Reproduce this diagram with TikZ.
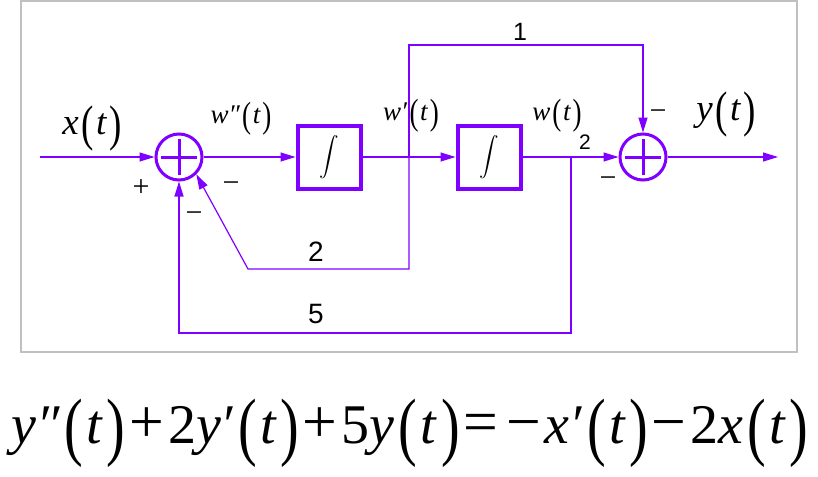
\documentclass[tikz,border=0pt]{standalone}
\usepackage{fontspec}
\setmainfont{Liberation Serif}
\newfontfamily\serif{Liberation Serif}
\newfontfamily\arial{Liberation Sans}
\usepackage{graphicx}
\usetikzlibrary{arrows.meta}
\definecolor{vio}{RGB}{128,0,255}
\definecolor{frm}{RGB}{192,192,192}
\newcommand\LP{\raisebox{-0.14em}{\scalebox{1}[1.35]{(}}}
\newcommand\RP{\raisebox{-0.14em}{\scalebox{1}[1.35]{)}}}
\newcommand\sig[2]{\textit{#1}\kern0.08em\LP\kern0.06em\textit{#2}\kern0.06em\RP}
\newcommand\op[1]{\kern0.07em\raisebox{0.02em}{\scalebox{1.1}{#1}}\kern0.07em}
\newcommand\fsz[1]{\fontsize{#1}{#1}\selectfont}
\newcommand\integ{\scalebox{1.95}{$\displaystyle\int$}}
\begin{document}
\begin{tikzpicture}[x=1pt,y=-1pt,
  sumnode/.style={circle,draw=vio,line width=3pt,minimum size=46pt,inner sep=0pt},
  intbox/.style={rectangle,draw=vio,line width=4pt,minimum width=63pt,minimum height=63pt,inner sep=0pt},
  plusline/.style={vio,line width=3pt},
  conn/.style={vio,line width=1.2pt},
  arr/.style={conn,-{Triangle[length=15pt,width=9pt]}},
  lab/.style={inner sep=0pt,anchor=center},
  num/.style={lab,font=\arial},
  sgn/.style={lab,font=\serif\fsz{30}}]
\useasboundingbox (0,0) rectangle (818,476);
\draw[frm,line width=1.5pt] (21,1) rectangle (797,352);
% blocks
\node[sumnode] (s1) at (179,157) {};
\node[sumnode] (s2) at (643,157) {};
\draw[plusline] ([xshift=-18pt]s1.center) -- ([xshift=18pt]s1.center);
\draw[plusline] ([yshift=-18pt]s1.center) -- ([yshift=18pt]s1.center);
\draw[plusline] ([xshift=-18pt]s2.center) -- ([xshift=18pt]s2.center);
\draw[plusline] ([yshift=-18pt]s2.center) -- ([yshift=18pt]s2.center);
\node[intbox] (i1) at (329,157) {\integ};
\node[intbox] (i2) at (489,157) {\integ};
% coordinates
\coordinate (in) at (40,157);
\coordinate (out) at (778,157);
\coordinate (b1) at (409,157);
\coordinate (b2) at (571,157);
\coordinate (t1) at (409,45);
\coordinate (f2a) at (409,269);
\coordinate (f2b) at (248,269);
\coordinate (f5a) at (571,333);
% connectors
\draw[arr] (in) -- (s1.west);
\draw[arr] (s1.east) -- (i1.west);
\draw[arr] (i1.east) -- (i2.west);
\draw[arr] (i2.east) -- (s2.west);
\draw[arr] (s2.east) -- (out);
\draw[arr] (b1) -- (t1) -| (s2.north);
\draw[arr] (b1) -- (f2a) -- (f2b) -- (s1.-45);
\draw[arr] (b2) -- (f5a) -| (s1.south);
% labels
\node[lab,font=\serif\fsz{37}] (lx) at (92,128) {\sig{x}{t}};
\node[lab,font=\serif\fsz{27}] (lw2) at (241,119) {\sig{w″}{t}};
\node[lab,font=\serif\fsz{27}] (lw1) at (411,116) {\sig{w′}{t}};
\node[lab,font=\serif\fsz{27}] (lw0) at (557,116) {\sig{w}{t}};
\node[lab,font=\serif\fsz{37}] (ly) at (726,114) {\sig{y}{t}};
\node[num,font=\arial\fsz{25}] (n1) at (520,32) {1};
\node[num,font=\arial\fsz{21}] (n2a) at (585,142) {2};
\node[num,font=\arial\fsz{28}] (n2b) at (316,252) {2};
\node[num,font=\arial\fsz{28}] (n5) at (316,314) {5};
\node[sgn] (p1) at (141,188) {+};
\node[sgn] (m1) at (231,187) {−};
\node[sgn] (m2) at (194,217) {−};
\node[sgn] (m3) at (658,115) {−};
\node[sgn] (m4) at (608,182) {−};
% equation
\node[lab,font=\serif\fsz{56}] (eq) at (410,433) {\sig{y″}{t}\op{+}2\sig{y′}{t}\op{+}5\sig{y}{t}\op{=}\op{−}\sig{x′}{t}\op{−}2\sig{x}{t}};
\end{tikzpicture}
\end{document}
